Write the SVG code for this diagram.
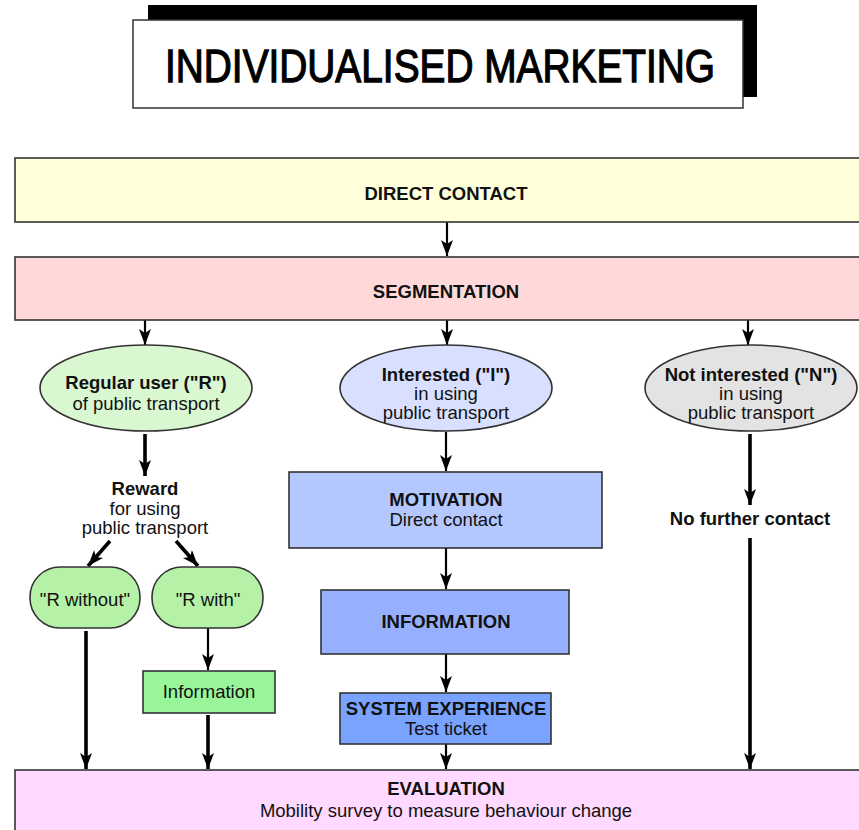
<svg xmlns="http://www.w3.org/2000/svg" width="859" height="830" viewBox="0 0 859 830">
<defs>
<marker id="ah2" viewBox="0 0 16 12" refX="16" refY="6" markerWidth="16" markerHeight="12" markerUnits="userSpaceOnUse" orient="auto">
<path d="M0,0 L16,6 L0,12 L4,6 Z" fill="#000"/>
</marker>
<style>
text{font-family:"Liberation Sans",Arial,Helvetica,sans-serif;font-size:18.5px;fill:#111;text-anchor:middle}
.b{font-weight:bold}
.box{stroke:#333;stroke-width:1.6}
.thin{stroke:#000;stroke-width:2.2;fill:none;marker-end:url(#ah2)}
.thick{stroke:#000;stroke-width:3.6;fill:none;marker-end:url(#ah2)}
</style>
</defs>

<g id="title">
<rect x="148" y="5" width="609" height="92" fill="#000"/>
<rect x="133" y="20" width="610" height="88" fill="#fff" stroke="#333" stroke-width="1.5"/>
<text x="440" y="82" style="font-size:47px;fill:#000;stroke:#000;stroke-width:1.3" textLength="550" lengthAdjust="spacingAndGlyphs">INDIVIDUALISED MARKETING</text>
</g>

<g id="connectors">
<line class="thin" x1="447" y1="222" x2="447" y2="256"/>
<line class="thin" x1="145" y1="320" x2="145" y2="345"/>
<line class="thin" x1="447" y1="320" x2="447" y2="345"/>
<line class="thin" x1="748" y1="320" x2="748" y2="345"/>
<line class="thick" x1="145" y1="434" x2="145" y2="476"/>
<line class="thick" x1="110" y1="541" x2="88" y2="566"/>
<line class="thick" x1="176" y1="541" x2="198" y2="566"/>
<line class="thick" x1="86" y1="631" x2="86" y2="769"/>
<line class="thin" x1="208" y1="628" x2="208" y2="670"/>
<line class="thick" x1="208" y1="715" x2="208" y2="769"/>
<line class="thin" x1="446" y1="432" x2="446" y2="471"/>
<line class="thin" x1="446" y1="548" x2="446" y2="589"/>
<line class="thin" x1="446" y1="654" x2="446" y2="692"/>
<line class="thin" x1="446" y1="744" x2="446" y2="769"/>
<line class="thick" x1="750" y1="434" x2="750" y2="505"/>
<line class="thick" x1="750" y1="538" x2="750" y2="769"/>
</g>

<g id="direct-contact">
<rect class="box" x="15" y="158" width="850" height="64" fill="#ffffd9"/>
<text class="b" x="446" y="200">DIRECT CONTACT</text>
</g>

<g id="segmentation">
<rect class="box" x="15" y="257" width="850" height="63" fill="#ffd9d9"/>
<text class="b" x="446" y="298">SEGMENTATION</text>
</g>

<g id="regular-user">
<ellipse class="box" cx="146" cy="388" rx="106" ry="43" fill="#d9f7d0"/>
<text class="b" x="146" y="389">Regular user ("R")</text>
<text x="146" y="410">of public transport</text>
</g>

<g id="interested">
<ellipse class="box" cx="446" cy="388" rx="106" ry="43" fill="#d9e0ff"/>
<text class="b" x="446" y="381">Interested ("I")</text>
<text x="446" y="400">in using</text>
<text x="446" y="419">public transport</text>
</g>

<g id="not-interested">
<ellipse class="box" cx="751" cy="388" rx="106" ry="43" fill="#e3e3e3"/>
<text class="b" x="751" y="381">Not interested ("N")</text>
<text x="751" y="400">in using</text>
<text x="751" y="419">public transport</text>
</g>

<g id="reward">
<text class="b" x="145" y="495">Reward</text>
<text x="145" y="515">for using</text>
<text x="145" y="534">public transport</text>
</g>

<g id="r-without">
<rect class="box" x="30" y="567" width="110" height="61" rx="30" fill="#b5f2a8"/>
<text x="85" y="606">"R without"</text>
</g>

<g id="r-with">
<rect class="box" x="152" y="567" width="111" height="61" rx="30" fill="#b5f2a8"/>
<text x="208" y="606">"R with"</text>
</g>

<g id="information-r">
<rect class="box" x="143" y="671" width="132" height="42" fill="#99f599"/>
<text x="209" y="698">Information</text>
</g>

<g id="motivation">
<rect class="box" x="289" y="472" width="313" height="76" fill="#b5c7ff"/>
<text class="b" x="446" y="506">MOTIVATION</text>
<text x="446" y="526">Direct contact</text>
</g>

<g id="information">
<rect class="box" x="321" y="590" width="248" height="64" fill="#96b0ff"/>
<text class="b" x="446" y="628">INFORMATION</text>
</g>

<g id="system-experience">
<rect class="box" x="340" y="693" width="211" height="51" fill="#7aa2ff"/>
<text class="b" x="446" y="715">SYSTEM EXPERIENCE</text>
<text x="446" y="735">Test ticket</text>
</g>

<g id="no-further-contact">
<text class="b" x="750" y="525">No further contact</text>
</g>

<g id="evaluation">
<rect class="box" x="15" y="770" width="850" height="70" fill="#ffd9ff"/>
<text class="b" x="446" y="795">EVALUATION</text>
<text x="446" y="817">Mobility survey to measure behaviour change</text>
</g>
</svg>
